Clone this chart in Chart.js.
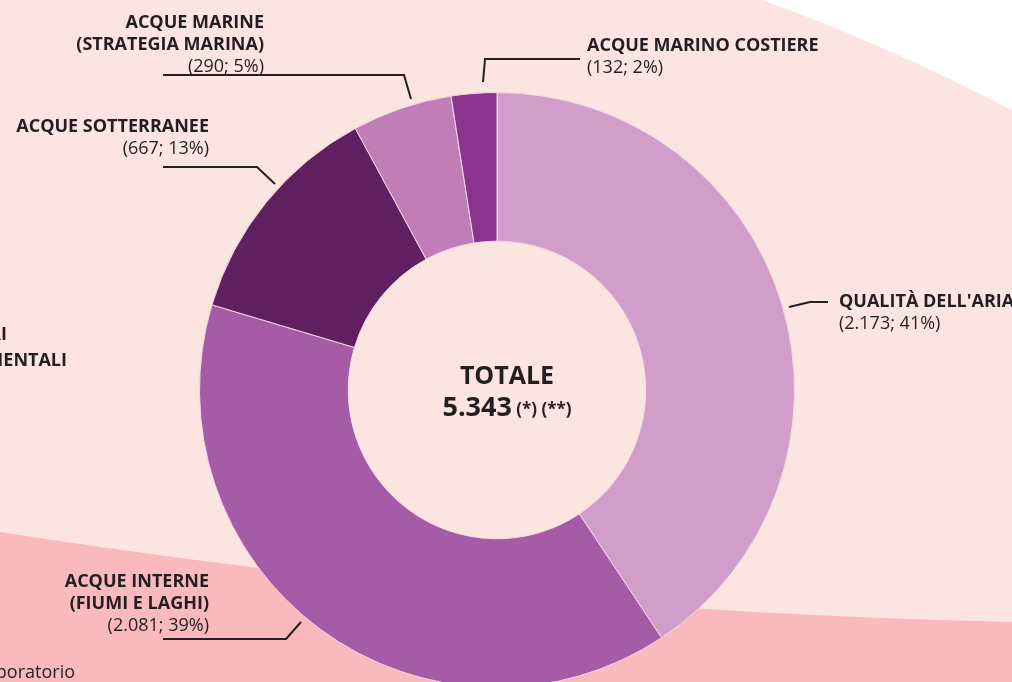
<!DOCTYPE html>
<html>
<head>
<meta charset="utf-8">
<script src="https://cdn.jsdelivr.net/npm/chart.js@4.4.1/dist/chart.umd.min.js"></script>
<style>
  html, body { margin: 0; padding: 0; overflow: hidden; background: #fce4e1; }
  #wrap { position: absolute; left: 0; top: 0; width: 1012px; height: 780px; }
</style>
</head>
<body>
<div id="wrap"><canvas id="doughnutChart" width="1012" height="780"></canvas></div>
<script>
// data
const categories = [
  "QUALITÀ DELL'ARIA",
  "ACQUE INTERNE\n(FIUMI E LAGHI)",
  "ACQUE SOTTERRANEE",
  "ACQUE MARINE\n(STRATEGIA MARINA)",
  "ACQUE MARINO COSTIERE"
];
const counts = [2173, 2081, 667, 290, 132];
const percents = [41, 39, 13, 5, 2];
const sliceColors = ["#d19dc9", "#a55ba6", "#5f1f61", "#c17db6", "#8b348f"];
const totalLabel = "5.343";

const TEXT = "#231f20";
const BOLD = "bold 18px 'Open Sans', sans-serif";
const REG = "18px 'Open Sans', sans-serif";

// label placement per slice: text anchor, alignment, leader polyline
const labelLayout = [
  { x: 839, y: 302, align: "left",  line: [[789, 307], [810, 302], [828, 302]] },
  { x: 209, y: 582, align: "right", line: [[163, 639], [286, 639], [301, 622]] },
  { x: 209, y: 127, align: "right", line: [[163, 167], [257, 167], [275, 184]] },
  { x: 264, y: 23,  align: "right", line: [[163, 75], [404, 75], [411, 99]] },
  { x: 587, y: 46,  align: "left",  line: [[483, 82], [485, 59], [580, 59]] }
];

function fmt(n) {
  return String(n).replace(/\B(?=(\d{3})+(?!\d))/g, ".");
}

const backdrop = {
  id: "backdrop",
  beforeDraw(chart) {
    const ctx = chart.ctx;
    ctx.save();
    ctx.fillStyle = "#fce4e1";
    ctx.fillRect(0, 0, chart.width, chart.height);
    // white sweep top-right
    ctx.fillStyle = "#ffffff";
    ctx.beginPath();
    ctx.moveTo(762, 0);
    ctx.quadraticCurveTo(880, 42, 1012, 110);
    ctx.lineTo(1012, 0);
    ctx.closePath();
    ctx.fill();
    // darker pink band at the bottom
    ctx.fillStyle = "#f9b9bd";
    ctx.beginPath();
    ctx.moveTo(0, 532);
    ctx.quadraticCurveTo(506, 611, 1012, 622);
    ctx.lineTo(1012, chart.height);
    ctx.lineTo(0, chart.height);
    ctx.closePath();
    ctx.fill();
    // text cut by the left/bottom edge
    ctx.fillStyle = TEXT;
    ctx.font = BOLD;
    ctx.textAlign = "right";
    ctx.textBaseline = "middle";
    ctx.fillText("ALTRI", 7, 335);
    ctx.fillText("MATRICI AMBIENTALI", 67, 361);
    ctx.font = "18px 'Open Sans', sans-serif";
    ctx.fillText("laboratorio", 75, 673);
    ctx.restore();
  }
};

const labels = {
  id: "labels",
  afterDraw(chart) {
    const ctx = chart.ctx;
    ctx.save();
    ctx.fillStyle = TEXT;
    ctx.strokeStyle = TEXT;
    ctx.lineWidth = 2;
    ctx.textBaseline = "middle";
    categories.forEach((name, i) => {
      const L = labelLayout[i];
      ctx.beginPath();
      L.line.forEach((p, k) => k ? ctx.lineTo(p[0], p[1]) : ctx.moveTo(p[0], p[1]));
      ctx.stroke();
      ctx.textAlign = L.align;
      let y = L.y;
      ctx.font = BOLD;
      name.split("\n").forEach(t => { ctx.fillText(t, L.x, y); y += 22; });
      ctx.font = REG;
      ctx.fillText("(" + fmt(counts[i]) + "; " + percents[i] + "%)", L.x, y);
    });

    // centre total
    const cx = 507;
    ctx.textAlign = "center";
    ctx.font = "bold 25px 'Open Sans', sans-serif";
    ctx.fillText("TOTALE", cx, 377);
    const big = "bold 27px 'Open Sans', sans-serif";
    const small = "bold 17px 'Open Sans', sans-serif";
    const suffix = " (*) (**)";
    ctx.font = big;
    const w1 = ctx.measureText(totalLabel).width;
    ctx.font = small;
    const w2 = ctx.measureText(suffix).width;
    const x0 = cx - (w1 + w2) / 2;
    ctx.textAlign = "left";
    ctx.font = big;
    ctx.fillText(totalLabel, x0, 408);
    ctx.font = small;
    ctx.fillText(suffix, x0 + w1, 410);
    ctx.restore();
  }
};

new Chart(document.getElementById("doughnutChart").getContext("2d"), {
  type: "doughnut",
  data: {
    labels: categories,
    datasets: [{
      data: counts,
      backgroundColor: sliceColors,
      borderColor: "#f3dbe6",
      borderWidth: 1
    }]
  },
  options: {
    responsive: false,
    maintainAspectRatio: false,
    animation: false,
    cutout: "50%",
    layout: { padding: { top: 92, bottom: 92, left: 199, right: 217 } },
    plugins: {
      legend: { display: false },
      tooltip: { enabled: false },
      title: { display: false }
    }
  },
  plugins: [backdrop, labels]
});
</script>
</body>
</html>
